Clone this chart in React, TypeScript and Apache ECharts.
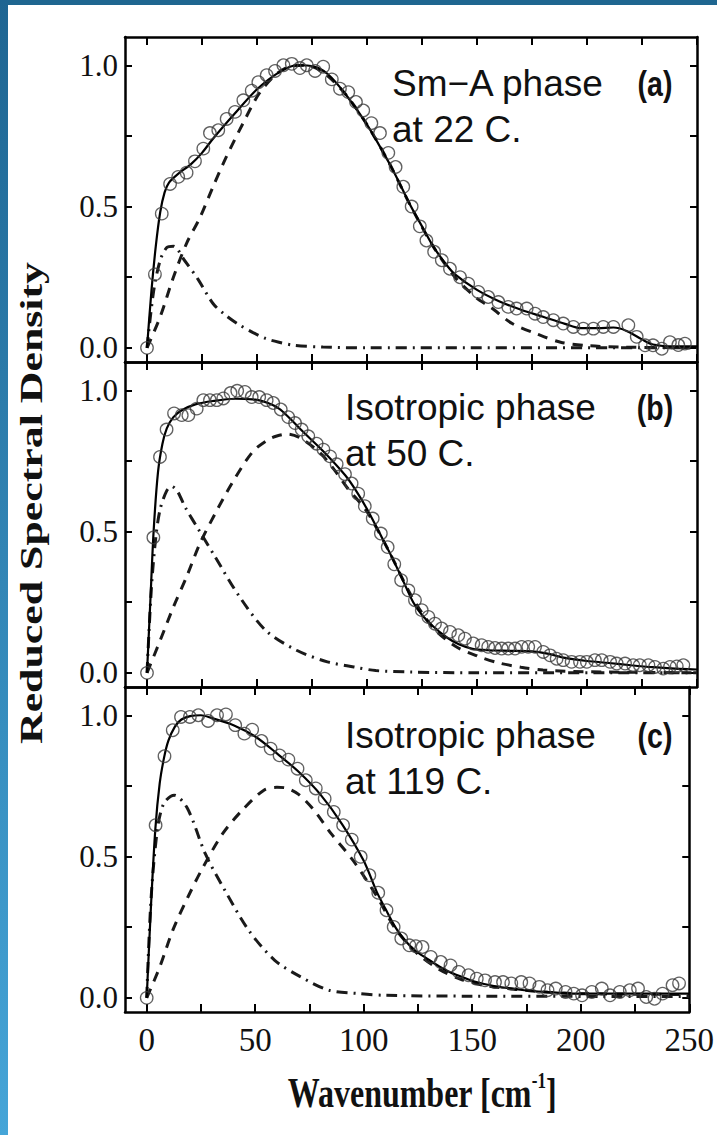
import React, { useEffect, useRef } from "react";
import * as echarts from "echarts";

// ---------- axis ticks ----------
const xTicks = [0, 25, 50, 75, 100, 125, 150, 175, 200, 225, 250];
const xLabels = [0, 50, 100, 150, 200, 250];
const yTicks = [0, 0.25, 0.5, 0.75, 1.0];
const yLabels = [0, 0.5, 1.0];

// ---------- panel (a): Sm-A phase at 22 C ----------
const aX = [0, 3.6, 6.7, 10.5, 14.2, 18, 21.8, 25.6, 28.6, 32.4, 36.2, 40, 43.8, 47.6, 50.6, 54.4, 58.2, 62, 65.8, 69.5, 72.6, 76.4, 80.1, 84, 87.7, 91.5, 95, 98.3, 102, 105.9, 109.7, 113, 116.5, 120.3, 124, 127, 130.5, 134, 137.7, 142.3, 146, 150.6, 155.1, 159.7, 164.2, 168, 172.6, 176.4, 180.1, 184.7, 189.2, 193.8, 198.3, 202.9, 207.4, 212, 218.8, 222.6, 226.4, 230, 234, 237.7, 241.5, 244.5];
const aY = [0, 0.26, 0.475, 0.58, 0.605, 0.62, 0.66, 0.705, 0.76, 0.77, 0.81, 0.835, 0.876, 0.91, 0.94, 0.965, 0.98, 1.0, 1.005, 0.99, 1.0, 0.98, 0.995, 0.95, 0.917, 0.905, 0.87, 0.84, 0.795, 0.76, 0.69, 0.64, 0.57, 0.5, 0.43, 0.38, 0.34, 0.31, 0.28, 0.25, 0.227, 0.198, 0.18, 0.162, 0.145, 0.139, 0.139, 0.121, 0.109, 0.098, 0.086, 0.074, 0.068, 0.068, 0.074, 0.074, 0.08, 0.039, 0.009, 0.009, -0.003, 0.02, 0.01, 0.015];
const aFit = [[0, 0], [2, 0.2], [4, 0.36], [6, 0.48], [8, 0.55], [10, 0.585], [14, 0.615], [20, 0.65], [25, 0.69], [30, 0.74], [40, 0.83], [50, 0.915], [60, 0.975], [68, 1.0], [76, 0.995], [82, 0.97], [90, 0.9], [100, 0.79], [110, 0.655], [114, 0.595], [120, 0.5], [125, 0.43], [130, 0.36], [136, 0.295], [140, 0.26], [150, 0.205], [160, 0.165], [170, 0.135], [180, 0.11], [190, 0.085], [197, 0.07], [205, 0.07], [212, 0.072], [218, 0.06], [225, 0.03], [230, 0.012], [240, 0.005], [250, 0.005]];
const aSlow = [[0, 0], [6, 0.11], [12, 0.25], [18, 0.37], [24, 0.46], [30, 0.57], [36, 0.675], [44, 0.8], [51, 0.9], [59, 0.97], [66, 0.998], [72, 1.0], [80, 0.975], [90, 0.9], [100, 0.79], [110, 0.655], [120, 0.5], [130, 0.36], [140, 0.25], [150, 0.175], [156, 0.145], [166, 0.086], [177, 0.05], [188, 0.02], [200, 0.008], [215, 0.003], [250, 0]];
const aFast = [[0, 0], [3, 0.2], [6, 0.31], [9, 0.355], [12, 0.36], [17, 0.31], [23, 0.245], [30, 0.157], [35, 0.12], [41, 0.086], [48, 0.055], [54, 0.033], [60, 0.02], [67, 0.009], [80, 0.003], [100, 0], [250, 0]];

// ---------- panel (b): Isotropic phase at 50 C ----------
const bX = [0, 2.9, 5.9, 8.9, 12.3, 15.8, 18.8, 22.6, 25.6, 28.6, 31.7, 34.7, 38, 41, 44.5, 47.6, 51, 54.4, 57.4, 60.8, 64.2, 67.3, 70.3, 73.3, 77.1, 80.2, 83.2, 86.2, 90, 93, 96, 99, 102.6, 106.3, 109.4, 112.4, 115.5, 118.8, 121.8, 124.9, 127.9, 130.9, 133.9, 137.7, 141.5, 144.5, 148.3, 152.1, 155.1, 158.2, 161.2, 164.2, 167.3, 170.3, 173.3, 176.4, 180.1, 183.2, 186.2, 189.2, 193, 196.8, 199.9, 203.6, 206.7, 210.5, 213.5, 217.3, 221, 224, 227.9, 230.9, 234.7, 237.7, 240.8, 243.8];
const bY = [0, 0.479, 0.764, 0.861, 0.918, 0.912, 0.912, 0.935, 0.965, 0.965, 0.965, 0.971, 0.99, 0.998, 0.994, 0.976, 0.976, 0.965, 0.955, 0.932, 0.905, 0.884, 0.861, 0.837, 0.811, 0.79, 0.766, 0.738, 0.703, 0.67, 0.634, 0.59, 0.546, 0.493, 0.445, 0.384, 0.328, 0.292, 0.257, 0.222, 0.198, 0.174, 0.157, 0.145, 0.133, 0.121, 0.104, 0.098, 0.092, 0.088, 0.086, 0.086, 0.086, 0.092, 0.092, 0.092, 0.074, 0.062, 0.05, 0.045, 0.039, 0.039, 0.039, 0.045, 0.045, 0.039, 0.033, 0.033, 0.027, 0.027, 0.027, 0.021, 0.015, 0.021, 0.023, 0.027];
const bFit = [[0, 0], [1.5, 0.25], [3, 0.5], [5, 0.71], [7, 0.81], [9, 0.865], [12, 0.905], [16, 0.93], [22, 0.95], [30, 0.962], [40, 0.97], [48, 0.968], [55, 0.955], [60, 0.935], [65, 0.9], [70, 0.86], [80, 0.785], [90, 0.7], [95, 0.645], [100, 0.58], [106.7, 0.48], [110, 0.43], [115, 0.35], [121, 0.25], [125, 0.205], [130, 0.165], [136, 0.127], [142, 0.1], [148, 0.085], [155, 0.08], [165, 0.078], [175, 0.076], [182, 0.068], [190, 0.053], [200, 0.042], [210, 0.035], [220, 0.027], [230, 0.02], [240, 0.015], [250, 0.012]];
const bSlow = [[0, 0], [6, 0.115], [12, 0.233], [18, 0.34], [24, 0.457], [31, 0.564], [39, 0.676], [48, 0.782], [55, 0.825], [59, 0.838], [64, 0.845], [70, 0.83], [79, 0.776], [85, 0.72], [91, 0.655], [100, 0.57], [110, 0.43], [120, 0.275], [130, 0.16], [140, 0.095], [150, 0.06], [160, 0.035], [170, 0.02], [180, 0.01], [200, 0.004], [250, 0]];
const bFast = [[0, 0], [2, 0.3], [4, 0.48], [6, 0.58], [9, 0.645], [11.2, 0.66], [14, 0.64], [17.3, 0.587], [24, 0.5], [31, 0.41], [42, 0.27], [54, 0.15], [68, 0.08], [82, 0.039], [94, 0.021], [104, 0.008], [120, 0.003], [150, 0], [250, 0]];

// ---------- panel (c): Isotropic phase at 119 C ----------
const cX = [0, 4.1, 8.2, 12, 15.8, 19.9, 23.8, 28.3, 32.4, 36.5, 40.8, 45, 48.6, 52.9, 57.1, 61.2, 65.3, 69.5, 73.3, 77.9, 82, 86.2, 90.5, 94.5, 98.6, 102.6, 106.7, 110.5, 113.8, 117.3, 121, 124, 127.1, 130.9, 135.5, 140, 143.8, 148.3, 152.1, 155.9, 160.5, 164.2, 168, 172.6, 176.4, 180.9, 184.7, 188.5, 193, 196.8, 200.6, 205.1, 209.7, 213.5, 218, 222.6, 226.4, 230.2, 234, 237.7, 242.3, 245.3];
const cY = [0, 0.611, 0.855, 0.947, 0.994, 0.994, 1.0, 0.98, 1.0, 1.003, 0.965, 0.935, 0.949, 0.909, 0.882, 0.858, 0.843, 0.811, 0.77, 0.741, 0.705, 0.658, 0.611, 0.56, 0.499, 0.434, 0.372, 0.31, 0.251, 0.21, 0.186, 0.183, 0.18, 0.145, 0.127, 0.115, 0.092, 0.08, 0.068, 0.062, 0.056, 0.056, 0.051, 0.056, 0.051, 0.039, 0.027, 0.033, 0.021, 0.015, 0.009, 0.021, 0.033, 0.009, 0.021, 0.027, 0.033, 0.003, -0.003, 0.015, 0.045, 0.051];
const cFit = [[0, 0], [2, 0.33], [4, 0.6], [6, 0.76], [8, 0.85], [10, 0.91], [13, 0.96], [16, 0.985], [20, 0.997], [25, 1.0], [30, 0.99], [40, 0.965], [50, 0.925], [60, 0.865], [70, 0.8], [80, 0.72], [90, 0.615], [100, 0.485], [106, 0.375], [110, 0.315], [115, 0.245], [120, 0.195], [124, 0.165], [129, 0.14], [135, 0.11], [140, 0.09], [145, 0.075], [151, 0.058], [160, 0.042], [174, 0.027], [186, 0.02], [197, 0.015], [250, 0.015]];
const cSlow = [[0, 0], [6, 0.109], [12, 0.239], [19, 0.357], [26, 0.463], [35, 0.581], [44, 0.664], [54, 0.735], [60, 0.745], [64, 0.743], [70, 0.72], [77, 0.665], [85, 0.581], [95, 0.487], [106, 0.36], [115, 0.24], [125, 0.155], [135, 0.1], [145, 0.065], [155, 0.045], [170, 0.03], [185, 0.02], [200, 0.015], [250, 0.012]];
const cFast = [[0, 0], [2, 0.35], [5, 0.6], [8, 0.69], [12.7, 0.717], [18.8, 0.67], [27, 0.51], [36, 0.381], [47, 0.239], [59, 0.133], [71, 0.074], [84, 0.027], [98, 0.015], [110, 0.009], [150, 0.006], [250, 0.005]];

const panelTitles = [
  ["Sm\u2212A phase", "at 22 C."],
  ["Isotropic phase", "at 50 C."],
  ["Isotropic phase", "at 119 C."],
];
const panelLetters = ["(a)", "(b)", "(c)"];

const panels = [
  { px: aX, py: aY, fit: aFit, slow: aSlow, fast: aFast },
  { px: bX, py: bY, fit: bFit, slow: bSlow, fast: bFast },
  { px: cX, py: cY, fit: cFit, slow: cSlow, fast: cFast },
];

const W = 717;
const H = 1135;
const GRID_TOPS = [37, 362, 687];
const GRID_H = 325;
const GRID_LEFT = 125;
const GRID_RIGHT = 20;
const X_MIN = -10;
const X_MAX = 250;
const Y_MIN = -0.05;
const Y_MAX = 1.1;

const SERIF = '"Liberation Serif", "Times New Roman", serif';
const SANS = '"Liberation Sans", Arial, sans-serif';

function buildOption() {
  const grid: any[] = [];
  const xAxis: any[] = [];
  const yAxis: any[] = [];
  const series: any[] = [];
  const axisLine = { show: true, onZero: false, lineStyle: { color: "#000", width: 2.5 } };

  panels.forEach((p, i) => {
    const last = i === panels.length - 1;
    grid.push({ left: GRID_LEFT, right: GRID_RIGHT, top: GRID_TOPS[i], height: GRID_H });
    xAxis.push({
      type: "value", gridIndex: i, min: X_MIN, max: X_MAX, position: "bottom",
      axisLine, splitLine: { show: false },
      axisTick: { show: true, inside: true, length: 8, customValues: xTicks, lineStyle: { color: "#000", width: 2 } },
      axisLabel: {
        show: last, customValues: xLabels, margin: 11,
        fontFamily: SERIF, fontSize: 33, color: "#111",
      },
    });
    xAxis.push({
      type: "value", gridIndex: i, min: X_MIN, max: X_MAX, position: "top",
      axisLine, splitLine: { show: false },
      axisTick: { show: true, inside: true, length: 8, customValues: xTicks, lineStyle: { color: "#000", width: 2 } },
      axisLabel: { show: false },
    });
    yAxis.push({
      type: "value", gridIndex: i, min: Y_MIN, max: Y_MAX, position: "left",
      axisLine, splitLine: { show: false },
      axisTick: { show: true, inside: true, length: 7, customValues: yTicks, lineStyle: { color: "#000", width: 2 } },
      axisLabel: {
        show: true, customValues: yLabels, margin: 7,
        formatter: (v: number) => v.toFixed(1),
        fontFamily: SERIF, fontSize: 31, color: "#111",
      },
    });
    yAxis.push({
      type: "value", gridIndex: i, min: Y_MIN, max: Y_MAX, position: "right",
      axisLine, splitLine: { show: false },
      axisTick: { show: true, inside: true, length: 7, customValues: yTicks, lineStyle: { color: "#000", width: 2 } },
      axisLabel: { show: false },
    });

    const xi = 2 * i;
    const yi = 2 * i;
    series.push({
      type: "line", xAxisIndex: xi, yAxisIndex: yi, data: p.fast, showSymbol: false, smooth: 0.3,
      lineStyle: { color: "#1a1a1a", width: 3, type: [11, 6, 2, 6] }, z: 2,
    });
    series.push({
      type: "line", xAxisIndex: xi, yAxisIndex: yi, data: p.slow, showSymbol: false, smooth: 0.3,
      lineStyle: { color: "#1a1a1a", width: 3, type: [10, 8] }, z: 2,
    });
    series.push({
      type: "line", xAxisIndex: xi, yAxisIndex: yi, data: p.fit, showSymbol: false, smooth: 0.3,
      lineStyle: { color: "#000", width: 2.2 }, z: 3,
    });
    series.push({
      type: "scatter", xAxisIndex: xi, yAxisIndex: yi,
      data: p.px.map((v, k) => [v, p.py[k]]),
      symbol: "circle", symbolSize: 12.5,
      itemStyle: { color: "rgba(0,0,0,0)", borderColor: "#3a3a3a", borderWidth: 1.3 }, z: 4,
    });
  });

  const graphic: any[] = [
    { type: "rect", left: 0, top: 0, shape: { width: W, height: 5 }, style: { fill: "#1f6690" }, silent: true },
    {
      type: "rect", left: 0, top: 0, shape: { width: 8, height: H }, silent: true,
      style: {
        fill: new echarts.graphic.LinearGradient(0, 0, 0, 1, [
          { offset: 0, color: "#1e6592" },
          { offset: 1, color: "#45a5d8" },
        ]),
      },
    },
    {
      type: "text", x: 31, y: 503, rotation: Math.PI / 2, scaleX: 1.37, silent: true,
      style: {
        text: "Reduced Spectral Density", fontFamily: SERIF, fontWeight: "bold", fontSize: 32,
        fill: "#111", align: "center", verticalAlign: "middle", textAlign: "center", textVerticalAlign: "middle",
      },
    },
    {
      type: "text", x: 422, y: 1092, scaleY: 1.35, silent: true,
      style: {
        text: "{b|Wavenumber [cm}{s|-1}{b|]}",
        fill: "#111", align: "center", verticalAlign: "middle", textAlign: "center", textVerticalAlign: "middle",
        rich: {
          b: { fontFamily: SERIF, fontWeight: "bold", fontSize: 32, fill: "#111", lineHeight: 34 },
          s: { fontFamily: SERIF, fontWeight: "bold", fontSize: 17, fill: "#111", verticalAlign: "top", lineHeight: 34 },
        },
      },
    },
  ];

  const titleX = [392, 345, 345];
  const titleY = [83, 407, 735];
  panelTitles.forEach((t, i) => {
    graphic.push({
      type: "text", x: titleX[i], y: titleY[i], silent: true,
      style: { text: t[0], fontFamily: SANS, fontSize: 37, fill: "#111", align: "left", verticalAlign: "middle", textAlign: "left", textVerticalAlign: "middle" },
    });
    graphic.push({
      type: "text", x: titleX[i], y: titleY[i] + 46, silent: true,
      style: { text: t[1], fontFamily: SANS, fontSize: 37, fill: "#111", align: "left", verticalAlign: "middle", textAlign: "left", textVerticalAlign: "middle" },
    });
    graphic.push({
      type: "text", x: 655, y: titleY[i] + 1, scaleX: 0.95, scaleY: 1.15, silent: true,
      style: { text: panelLetters[i], fontFamily: SANS, fontWeight: "bold", fontSize: 30, fill: "#111", align: "center", verticalAlign: "middle", textAlign: "center", textVerticalAlign: "middle" },
    });
  });

  return {
    animation: false,
    backgroundColor: "#ffffff",
    grid, xAxis, yAxis, series, graphic,
  };
}

export default function App() {
  const ref = useRef<HTMLDivElement>(null);
  useEffect(() => {
    if (!ref.current) return;
    const chart = echarts.init(ref.current, null, { renderer: "svg" });
    chart.setOption(buildOption() as any);
    return () => chart.dispose();
  }, []);
  return (
    <div
      ref={ref}
      style={{ position: "absolute", left: 0, top: 0, width: W, height: H, background: "#fff" }}
    />
  );
}
